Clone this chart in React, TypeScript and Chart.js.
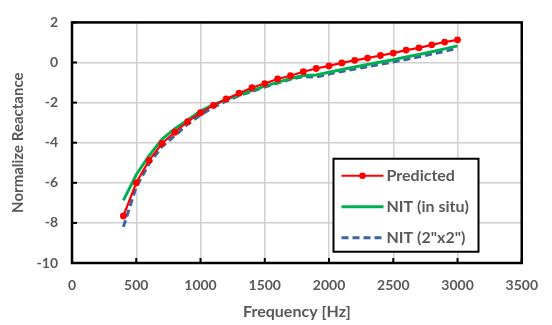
import React, { useEffect, useRef } from "react";
import { Chart, registerables } from "chart.js";

Chart.register(...registerables);

const frequencies = [400, 500, 600, 700, 800, 900, 1000, 1100, 1200, 1300, 1400, 1500, 1600, 1700, 1800, 1900, 2000, 2100, 2200, 2300, 2400, 2500, 2600, 2700, 2800, 2900, 3000];
const predicted = [-7.65, -6.0, -4.88, -4.04, -3.48, -2.95, -2.5, -2.14, -1.82, -1.53, -1.26, -1.05, -0.82, -0.66, -0.46, -0.3, -0.17, -0.02, 0.11, 0.22, 0.35, 0.47, 0.62, 0.73, 0.88, 1.02, 1.13];
const nitInSitu = [-6.88, -5.6, -4.64, -3.83, -3.3, -2.87, -2.42, -2.1, -1.85, -1.6, -1.4, -1.18, -0.99, -0.8, -0.65, -0.62, -0.49, -0.35, -0.22, -0.1, 0.02, 0.14, 0.27, 0.4, 0.54, 0.68, 0.83];
const nit2x2 = [-8.2, -6.2, -5.05, -4.2, -3.65, -3.08, -2.62, -2.23, -1.92, -1.65, -1.45, -1.22, -1.02, -0.84, -0.7, -0.73, -0.57, -0.45, -0.33, -0.21, -0.09, 0.03, 0.15, 0.28, 0.42, 0.56, 0.71];
const seriesLabels = ["Predicted", "NIT (in situ)", 'NIT (2"x2")'];

const FONT = "Lato, 'Open Sans', sans-serif";
const GREY = "#595959";

const framePlugin = {
  id: "frame",
  afterDatasetsDraw(chart: any) {
    const { ctx, chartArea } = chart;
    const { left, right, top, bottom } = chartArea;
    ctx.save();
    ctx.strokeStyle = "#000";
    ctx.lineWidth = 2;
    const ys = chart.scales.y;
    ys.ticks.forEach((t: any) => {
      const py = ys.getPixelForValue(t.value);
      ctx.beginPath();
      ctx.moveTo(left, py);
      ctx.lineTo(left + 5, py);
      ctx.stroke();
    });
    const xs = chart.scales.x;
    xs.ticks.forEach((t: any) => {
      const px = xs.getPixelForValue(t.value);
      ctx.beginPath();
      ctx.moveTo(px, bottom);
      ctx.lineTo(px, bottom - 5);
      ctx.stroke();
    });
    ctx.lineWidth = 2.5;
    ctx.strokeRect(left, top, right - left, bottom - top);
    ctx.restore();
  },
  afterDraw(chart: any) {
    const { ctx } = chart;
    const xs = chart.scales.x;
    const ys = chart.scales.y;
    const bx = xs.getPixelForValue(2035);
    const by = ys.getPixelForValue(-4.8);
    const bw = 145;
    const bh = 93;
    ctx.save();
    ctx.fillStyle = "#fff";
    ctx.fillRect(bx, by, bw, bh);
    ctx.strokeStyle = "#000";
    ctx.lineWidth = 2;
    ctx.strokeRect(bx, by, bw, bh);
    const rows = [by + 17, by + 48, by + 79];
    chart.data.datasets.forEach((ds: any, i: number) => {
      const ry = rows[i];
      ctx.strokeStyle = ds.borderColor;
      ctx.lineWidth = ds.borderWidth;
      ctx.setLineDash(ds.borderDash || []);
      ctx.beginPath();
      ctx.moveTo(bx + 8, ry);
      ctx.lineTo(bx + 50, ry);
      ctx.stroke();
      ctx.setLineDash([]);
      if (ds.pointRadius > 0) {
        ctx.fillStyle = ds.pointBackgroundColor;
        ctx.beginPath();
        ctx.arc(bx + 29, ry, 3.2, 0, Math.PI * 2);
        ctx.fill();
      }
      ctx.fillStyle = GREY;
      ctx.font = `bold 16px ${FONT}`;
      ctx.textBaseline = "middle";
      ctx.textAlign = "left";
      ctx.fillText(ds.label, bx + 53, ry);
    });
    ctx.restore();
  },
};

export default function App() {
  const ref = useRef<HTMLCanvasElement>(null);
  useEffect(() => {
    document.body.style.margin = "0";
    const chart = new Chart(ref.current!, {
      type: "line",
      data: {
        datasets: [
          {
            label: seriesLabels[0],
            data: frequencies.map((f, i) => ({ x: f, y: predicted[i] })),
            borderColor: "#ff0000",
            backgroundColor: "#ff0000",
            pointBackgroundColor: "#ff0000",
            pointBorderWidth: 0,
            borderWidth: 2.2,
            pointRadius: 3.4,
            order: 1,
          },
          {
            label: seriesLabels[1],
            data: frequencies.map((f, i) => ({ x: f, y: nitInSitu[i] })),
            borderColor: "#00b050",
            backgroundColor: "#00b050",
            borderWidth: 3,
            pointRadius: 0,
            order: 2,
          },
          {
            label: seriesLabels[2],
            data: frequencies.map((f, i) => ({ x: f, y: nit2x2[i] })),
            borderColor: "#3b64a0",
            backgroundColor: "#3b64a0",
            borderWidth: 3,
            borderDash: [7, 4],
            pointRadius: 0,
            order: 3,
          },
        ],
      },
      options: {
        responsive: false,
        animation: false,
        layout: { padding: { top: 14, right: 24, left: 0, bottom: 0 } },
        plugins: { legend: { display: false }, tooltip: { enabled: false } },
        scales: {
          x: {
            type: "linear",
            min: 0,
            max: 3500,
            ticks: {
              stepSize: 500,
              color: GREY,
              font: { family: FONT, size: 14, weight: "bold" },
              padding: 14,
              maxRotation: 0,
              callback: (v: any) => String(v),
            },
            grid: { color: "#d0d0d0", lineWidth: 1.5, drawTicks: false },
            border: { display: false },
            title: { display: true, text: "Frequency [Hz]", color: GREY, font: { family: FONT, size: 16, weight: "bold" }, padding: { top: 8, bottom: 4 } },
            afterFit(scale: any) {
              scale.height = 62;
            },
          },
          y: {
            min: -10,
            max: 2,
            ticks: { stepSize: 2, color: GREY, font: { family: FONT, size: 14, weight: "bold" }, padding: 14 },
            grid: { color: "#d0d0d0", lineWidth: 1.5, drawTicks: false },
            border: { display: false },
            title: { display: true, text: "Normalize Reactance", color: GREY, font: { family: FONT, size: 15, weight: "bold" }, padding: { top: 9, bottom: 4 } },
            afterFit(scale: any) {
              scale.width = 72;
            },
          },
        },
      },
      plugins: [framePlugin],
    });
    return () => chart.destroy();
  }, []);
  return (
    <div style={{ position: "absolute", left: 0, top: 0, width: 552, height: 325 }}>
      <canvas ref={ref} width={552} height={325} style={{ display: "block", width: 552, height: 325 }} />
    </div>
  );
}
